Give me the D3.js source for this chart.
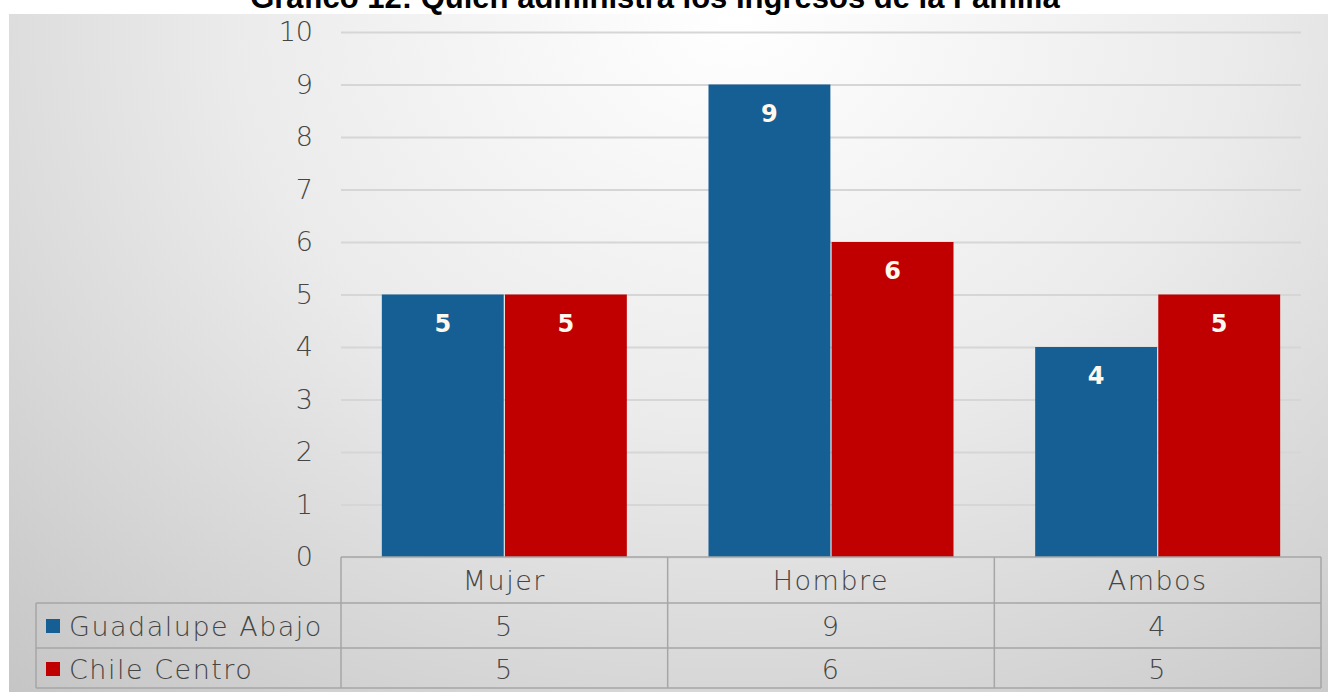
<!DOCTYPE html>
<html>
<head>
<meta charset="utf-8">
<script src="https://cdn.jsdelivr.net/npm/d3@7"></script>
<style>
  body { margin: 0; background: #fff; overflow: hidden; }
  svg { display: block; }
</style>
</head>
<body>
<svg id="chart" width="1328" height="692"></svg>
<script>
let categories = ["Mujer", "Hombre", "Ambos"];
let seriesNames = ["Guadalupe Abajo", "Chile Centro"];
let guadalupe = [5, 9, 4];
let chile = [5, 6, 5];
let yTicks = [0, 1, 2, 3, 4, 5, 6, 7, 8, 9, 10];
let colors = ["#165f94", "#c00000"];
let title = "Gráfico 12: Quién administra los Ingresos de la Familia";

let svg = d3.select("#chart");
let defs = svg.append("defs");
let font = "'Century Gothic', 'DejaVu Sans', sans-serif";

// background panel gradient
let grad = defs.append("radialGradient")
  .attr("id", "bg")
  .attr("cx", "0.55").attr("cy", "0.0")
  .attr("r", "0.85")
  .attr("gradientTransform", "translate(0.55,0) scale(1,1.6) translate(-0.55,0)");
grad.append("stop").attr("offset", "0").attr("stop-color", "#ffffff");
grad.append("stop").attr("offset", "0.45").attr("stop-color", "#ebebeb");
grad.append("stop").attr("offset", "1").attr("stop-color", "#c4c4c4");

svg.append("rect")
  .attr("x", 9).attr("y", 14)
  .attr("width", 1319).attr("height", 678)
  .style("fill", "url(#bg)");

// title, clipped at top of page like the reference
svg.append("text")
  .attr("x", 655).attr("y", 8)
  .attr("text-anchor", "middle")
  .style("font-family", "Arial, 'Liberation Sans', sans-serif")
  .style("font-weight", "bold")
  .style("font-size", "31px")
  .style("fill", "#000")
  .text(title);

let plotLeft = 341, plotRight = 1321, plotTop = 32, plotBottom = 557;

let x0 = d3.scaleBand().domain(categories).range([plotLeft, plotRight]).padding(0);
let gap = x0.bandwidth() * 0.125;
let x1 = d3.scaleBand().domain(seriesNames).range([gap, x0.bandwidth() - gap]).paddingInner(0.01);
let y = d3.scaleLinear().domain([0, 10]).range([plotBottom, plotTop]);

// gridlines
let grid = d3.axisLeft(y).tickValues(yTicks).tickSize(-(plotRight - plotLeft - 20)).tickFormat("");
svg.append("g")
  .attr("transform", "translate(" + plotLeft + ",0)")
  .call(grid)
  .call(g => g.select(".domain").remove())
  .call(g => g.selectAll("line").style("stroke", "#d6d6d6").style("stroke-width", 2));

let cellFont = function(sel) {
  sel.style("font-family", font).style("font-weight", 200)
    .style("font-size", "27px").style("letter-spacing", "1.5px")
    .style("fill", "#454545");
};

// y tick labels
let yAxis = d3.axisLeft(y).tickValues(yTicks).tickSize(0).tickPadding(0);
svg.append("g")
  .attr("transform", "translate(313,0)")
  .call(yAxis)
  .call(g => g.select(".domain").remove())
  .call(g => g.selectAll("text").call(cellFont).style("letter-spacing", "0px"));

// bars
let rows = categories.map(function(c, i) {
  return { cat: c, values: [guadalupe[i], chile[i]] };
});

let groups = svg.selectAll(".grp")
  .data(rows)
  .enter().append("g")
  .attr("class", "grp")
  .attr("transform", function(d) { return "translate(" + x0(d.cat) + ",0)"; });

let bars = groups.selectAll(".bar")
  .data(function(d) { return d.values.map(function(v, j) { return { s: seriesNames[j], v: v, j: j }; }); })
  .enter();

bars.append("rect")
  .attr("x", function(d) { return x1(d.s); })
  .attr("y", function(d) { return y(d.v); })
  .attr("width", x1.bandwidth())
  .attr("height", function(d) { return y(0) - y(d.v); })
  .style("fill", function(d) { return colors[d.j]; });

bars.append("text")
  .attr("x", function(d) { return x1(d.s) + x1.bandwidth() / 2; })
  .attr("y", function(d) { return y(d.v) + 37; })
  .attr("text-anchor", "middle")
  .style("font-family", font)
  .style("font-weight", "bold")
  .style("font-size", "24px")
  .style("fill", "#fff8ee")
  .text(function(d) { return d.v; });

// data table
let rowTop = [557, 603, 648];
let rowBot = 688;
let lineColor = "#a6a6a6";
let tbl = svg.append("g");

// horizontal lines
tbl.append("line").attr("x1", plotLeft).attr("x2", plotRight).attr("y1", rowTop[0]).attr("y2", rowTop[0]);
[rowTop[1], rowTop[2], rowBot].forEach(function(yy) {
  tbl.append("line").attr("x1", 36).attr("x2", plotRight).attr("y1", yy).attr("y2", yy);
});
// vertical lines
tbl.append("line").attr("x1", 36).attr("x2", 36).attr("y1", rowTop[1]).attr("y2", rowBot);
categories.forEach(function(c) {
  tbl.append("line").attr("x1", x0(c)).attr("x2", x0(c)).attr("y1", rowTop[0]).attr("y2", rowBot);
});
tbl.append("line").attr("x1", plotRight).attr("x2", plotRight).attr("y1", rowTop[0]).attr("y2", rowBot);
tbl.selectAll("line").style("stroke", lineColor).style("stroke-width", 1.5);

// header
tbl.selectAll(".hdr").data(categories).enter().append("text")
  .attr("x", function(d) { return x0(d) + x0.bandwidth() / 2; })
  .attr("y", 590)
  .attr("text-anchor", "middle")
  .call(cellFont)
  .text(function(d) { return d; });

// value rows
[guadalupe, chile].forEach(function(vals, j) {
  let yy = j === 0 ? 636 : 679;
  tbl.append("rect")
    .attr("x", 46).attr("y", yy - 17)
    .attr("width", 14).attr("height", 14)
    .style("fill", colors[j]);
  tbl.append("text")
    .attr("x", 69).attr("y", yy)
    .call(cellFont)
    .text(seriesNames[j]);
  tbl.selectAll(".v" + j).data(vals).enter().append("text")
    .attr("x", function(d, i) { return x0(categories[i]) + x0.bandwidth() / 2; })
    .attr("y", yy)
    .attr("text-anchor", "middle")
    .call(cellFont)
    .text(function(d) { return d; });
});
</script>
</body>
</html>
